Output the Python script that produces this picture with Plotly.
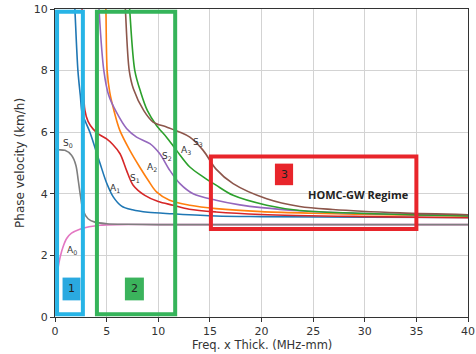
import plotly.graph_objects as go

# Dispersion curves (x: Freq. x Thick. MHz-mm, y: phase velocity)
A0_x = [0.2, 0.3, 0.5, 0.8, 1.13, 1.6, 2.4, 3.3, 4.35, 6, 10, 20, 30, 40]
A0_y = [1.3, 1.6, 1.95, 2.3, 2.55, 2.72, 2.85, 2.93, 2.98, 3.0, 3.0, 3.0, 3.0, 3.0]

S0_x = [0, 0.31, 0.96, 1.6, 2.02, 2.25, 2.48, 2.73, 3.2, 3.86, 5, 7, 10, 20, 30, 40]
S0_y = [5.45, 5.43, 5.41, 5.25, 4.93, 4.44, 3.9, 3.46, 3.19, 3.08, 3.03, 3.01, 3.0, 3.0, 3.0, 3.0]

A1_x = [1.85, 1.93, 2.22, 2.45, 2.64, 3.0, 3.38, 4.35, 5.0, 5.64, 6.45, 7.5, 9.0, 11.4, 15.6, 20, 30, 40]
A1_y = [10.5, 9.96, 8.0, 7.2, 6.6, 6.3, 6.0, 5.0, 4.35, 3.9, 3.6, 3.48, 3.4, 3.35, 3.28, 3.26, 3.24, 3.23]

S1_x = [2.6, 2.65, 2.72, 2.9, 3.2, 3.7, 4.3, 5.0, 5.6, 6.3, 6.93, 7.57, 8.7, 10, 11.44, 13, 15.6, 20, 30, 40]
S1_y = [10.5, 9.0, 7.6, 6.71, 6.35, 6.1, 5.92, 5.78, 5.6, 5.3, 4.76, 4.28, 3.95, 3.75, 3.63, 3.5, 3.41, 3.33, 3.26, 3.22]

A2_x = [4.85, 4.93, 5.05, 5.3, 5.75, 6.28, 7.25, 8.2, 9.02, 9.83, 11.1, 13.06, 15.6, 20, 25, 30, 40]
A2_y = [10.5, 9.9, 8.0, 7.3, 6.65, 6.06, 5.41, 4.87, 4.44, 4.06, 3.79, 3.63, 3.52, 3.42, 3.37, 3.33, 3.28]

S2_x = [4.2, 4.28, 4.73, 5.2, 5.95, 6.93, 7.9, 9.19, 10.15, 11.12, 12.1, 13.38, 15.6, 17.9, 20, 23.7, 30, 40]
S2_y = [10.5, 9.9, 8.0, 7.2, 6.65, 6.12, 5.84, 5.63, 5.3, 4.76, 4.33, 4.0, 3.79, 3.64, 3.55, 3.45, 3.36, 3.3]

A3_x = [7.15, 7.25, 7.73, 8.3, 8.95, 9.83, 10.8, 11.77, 13.06, 14.35, 15.6, 17.25, 20.5, 23.7, 30.2, 40]
A3_y = [10.5, 9.9, 8.0, 7.3, 6.7, 6.22, 5.84, 5.41, 4.87, 4.55, 4.28, 3.95, 3.63, 3.46, 3.36, 3.28]

S3_x = [6.75, 6.83, 7.19, 7.6, 8.6, 9.5, 10.8, 12.1, 13.06, 14.35, 15.6, 17.25, 20.5, 23.7, 26.9, 33.4, 40]
S3_y = [10.5, 9.9, 8.0, 7.4, 6.7, 6.33, 6.17, 6.0, 5.84, 5.41, 4.8, 4.33, 3.84, 3.59, 3.49, 3.38, 3.32]

curve_names = ["A0", "S0", "A1", "S1", "A2", "S2", "A3", "S3"]
curve_colors = ["#e377c2", "#7f7f7f", "#1f77b4", "#d62728", "#ff7f0e", "#9467bd", "#2ca02c", "#8c564b"]
curve_data = [(A0_x, A0_y), (S0_x, S0_y), (A1_x, A1_y), (S1_x, S1_y),
              (A2_x, A2_y), (S2_x, S2_y), (A3_x, A3_y), (S3_x, S3_y)]

label_text = ["A<sub>0</sub>", "S<sub>0</sub>", "A<sub>1</sub>", "S<sub>1</sub>",
              "A<sub>2</sub>", "S<sub>2</sub>", "A<sub>3</sub>", "S<sub>3</sub>"]
label_x = [1.6, 1.28, 5.8, 7.73, 9.35, 10.86, 12.67, 13.86]
label_y = [2.17, 5.63, 4.17, 4.49, 4.87, 5.2, 5.41, 5.66]

# Region boxes [x0, x1, y0, y1]
region_boxes = [(0.2, 2.7, 0.09, 9.91), (4.06, 11.64, 0.09, 9.91), (15.1, 35.0, 2.86, 5.21)]
region_colors = ["#27b4e6", "#35b45a", "#e8252b"]
badge_text = ["1", "2", "3"]
badge_boxes = [(0.73, 2.47, 0.54, 1.28), (6.77, 8.61, 0.54, 1.28), (21.3, 23.06, 4.28, 4.98)]
badge_colors = ["#2aa9e0", "#3bb35c", "#e8252b"]

x_ticks = [0, 5, 10, 15, 20, 25, 30, 35, 40]
y_ticks = [0, 2, 4, 6, 8, 10]

fig = go.Figure()
for name, color, (xs, ys) in zip(curve_names, curve_colors, curve_data):
    fig.add_trace(go.Scatter(x=xs, y=ys, mode="lines", name=name,
                             line=dict(color=color, width=1.6, shape="spline", smoothing=0.9),
                             showlegend=False, hoverinfo="skip"))

for t, lx, ly in zip(label_text, label_x, label_y):
    fig.add_annotation(x=lx, y=ly, text=t, showarrow=False,
                       font=dict(family="DejaVu Sans", size=9, color="#333333"))

for (x0, x1, y0, y1), c in zip(region_boxes, region_colors):
    fig.add_shape(type="rect", x0=x0, x1=x1, y0=y0, y1=y1, xref="x", yref="y",
                  line=dict(color=c, width=4), fillcolor="rgba(0,0,0,0)", layer="above")

for t, (x0, x1, y0, y1), c in zip(badge_text, badge_boxes, badge_colors):
    fig.add_shape(type="rect", x0=x0, x1=x1, y0=y0, y1=y1, xref="x", yref="y",
                  line=dict(width=0), fillcolor=c, layer="above")
    fig.add_annotation(x=(x0 + x1) / 2, y=(y0 + y1) / 2, text=t, showarrow=False,
                       font=dict(family="DejaVu Sans", size=11, color="#222222"))

fig.add_annotation(x=29.4, y=3.98, text="<b>HOMC-GW Regime</b>", showarrow=False,
                   font=dict(family="Open Sans", size=11, color="#222222"))

# Axis titles as paper annotations (keeps the plot area fixed)
fig.add_annotation(xref="paper", yref="paper", x=0.5, y=-0.091, xanchor="center", yanchor="middle",
                   text="Freq. x Thick. (MHz-mm)", showarrow=False,
                   font=dict(family="DejaVu Sans", size=11.5, color="#333333"))
fig.add_annotation(xref="paper", yref="paper", x=-0.085, y=0.5, xanchor="center", yanchor="middle",
                   text="Phase velocity (km/h)", textangle=-90, showarrow=False,
                   font=dict(family="DejaVu Sans", size=12, color="#333333"))

axis_common = dict(showgrid=True, gridcolor="#d3d3d3", gridwidth=1, zeroline=False,
                   showline=True, linecolor="#333333", linewidth=1, mirror=True,
                   ticks="outside", ticklen=4, tickcolor="#333333", automargin=False,
                   tickfont=dict(family="DejaVu Sans", size=11, color="#333333"))

fig.update_xaxes(range=[0, 40], tickvals=x_ticks, **axis_common)
fig.update_yaxes(range=[0, 10], tickvals=y_ticks, **axis_common)

fig.update_layout(width=476, height=354, margin=dict(l=55, r=8, t=9, b=37),
                  paper_bgcolor="white", plot_bgcolor="white")

fig.write_html("out.html", config={"displayModeBar": False},
               post_script="document.body.style.margin='0';")
